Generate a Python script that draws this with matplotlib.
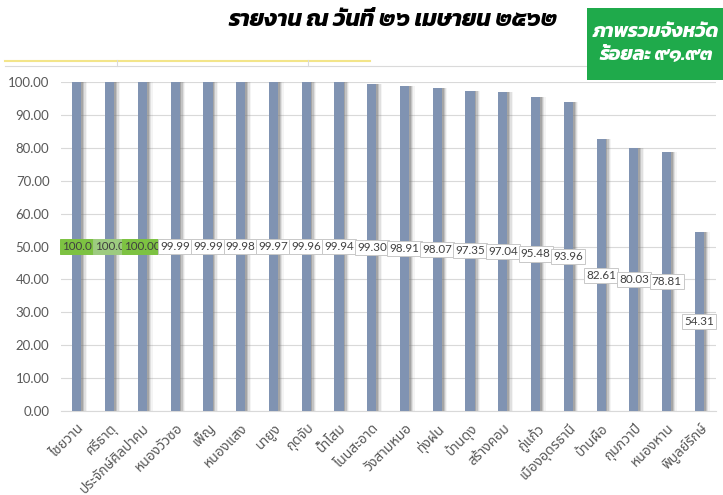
import matplotlib
matplotlib.use("Agg")
import matplotlib.pyplot as plt
from matplotlib.lines import Line2D
from matplotlib.patches import Rectangle
import numpy as np

districts = ["ไชยวาน", "ศรีธาตุ", "ประจักษ์ศิลปาคม", "หนองวัวซอ", "เพ็ญ", "หนองแสง",
             "นายูง", "กุดจับ", "น้ำโสม", "โนนสะอาด", "วังสามหมอ", "ทุ่งฝน", "บ้านดุง",
             "สร้างคอม", "กู่แก้ว", "เมืองอุดรธานี", "บ้านผือ", "กุมภวาปี", "หนองหาน", "พิบูลย์รักษ์"]
values = [100.00, 100.00, 100.00, 99.99, 99.99, 99.98, 99.97, 99.96, 99.94, 99.30,
          98.91, 98.07, 97.35, 97.04, 95.48, 93.96, 82.61, 80.03, 78.81, 54.31]
label_texts = ["100.0", "100.0", "100.00", "99.99", "99.99", "99.98", "99.97", "99.96", "99.94", "99.30",
               "98.91", "98.07", "97.35", "97.04", "95.48", "93.96", "82.61", "80.03", "78.81", "54.31"]
label_bg = ["#7DC242", "#9DCB80", "#7DC242"] + ["white"] * 17
yticks = [0, 10, 20, 30, 40, 50, 60, 70, 80, 90, 100]
title = "รายงาน ณ วันที่ ๒๖ เมษายน ๒๕๖๒"
summary = "ภาพรวมจังหวัด\nร้อยละ ๙๑.๙๓"

fig = plt.figure(figsize=(7.23, 4.95), dpi=100)
ax = fig.add_axes([0.0837, 0.1697, 0.9063, 0.6646])

x = np.arange(len(districts))
bw = 0.28
# soft shadow on the right of each bar
for k, a in zip([0.05, 0.09, 0.13, 0.17], [0.40, 0.28, 0.16, 0.08]):
    ax.bar(x + k, values, width=bw, color="#7A7A7A", alpha=a, zorder=2, clip_on=False, lw=0)
ax.bar(x, values, width=bw, color="#8093B2", zorder=3, clip_on=False, lw=0)

for i, (xi, v, t, bg) in enumerate(zip(x, values, label_texts, label_bg)):
    ax.text(xi, v / 2, t, ha="center", va="center", fontsize=8.4, family="Lato",
            color="#404040", zorder=5 + i,
            bbox=dict(boxstyle="square,pad=0.18", fc=bg, ec="#C8C8C8" if bg == "white" else bg, lw=0.7))

ax.set_ylim(0, 100)
ax.set_xlim(-0.5, len(districts) - 0.5)
ax.set_yticks(yticks)
ax.set_yticklabels([f"{t:.2f}" for t in yticks], fontsize=9.5, family="Lato", color="#595959")
ax.set_xticks(x)
ax.set_xticklabels(districts, rotation=45, ha="right", rotation_mode="anchor",
                   fontsize=10, family="Noto Sans Thai", color="#595959")
ax.tick_params(axis="y", length=0, pad=8)
ax.tick_params(axis="x", length=0, pad=7)
ax.grid(axis="y", color="#D9D9D9", lw=0.8, zorder=0)
for s in ["top", "right", "left"]:
    ax.spines[s].set_visible(False)
ax.spines["bottom"].set_color("#D9D9D9")

# spreadsheet lines at the top
fig.add_artist(Line2D([5 / 723, 370 / 723], [1 - 61 / 495] * 2, color="#F3E58A", lw=1.5))
fig.add_artist(Line2D([5 / 723, 1.0], [1 - 65.5 / 495] * 2, color="#DADADA", lw=0.8))
fig.add_artist(Line2D([117 / 723] * 2, [1 - 60 / 495, 1 - 66 / 495], color="#DADADA", lw=0.8))
fig.add_artist(Line2D([308 / 723] * 2, [1 - 60 / 495, 1 - 66 / 495], color="#DADADA", lw=0.8))

fig.text(393 / 723, 1 - 21 / 495, title, ha="center", va="center", fontsize=16.5,
         family="Kanit", weight="bold", style="italic", color="black")

fig.add_artist(Rectangle((587 / 723, 1 - 80 / 495), 136 / 723, 72 / 495,
                         transform=fig.transFigure, fc="#1FAA4B", ec="none", zorder=10))
fig.text(656 / 723, 1 - 44 / 495, summary, ha="center", va="center", fontsize=14,
         family="Kanit", weight="bold", style="italic", color="white", zorder=11,
         linespacing=1.3)

fig.savefig("out.png", dpi=100)
